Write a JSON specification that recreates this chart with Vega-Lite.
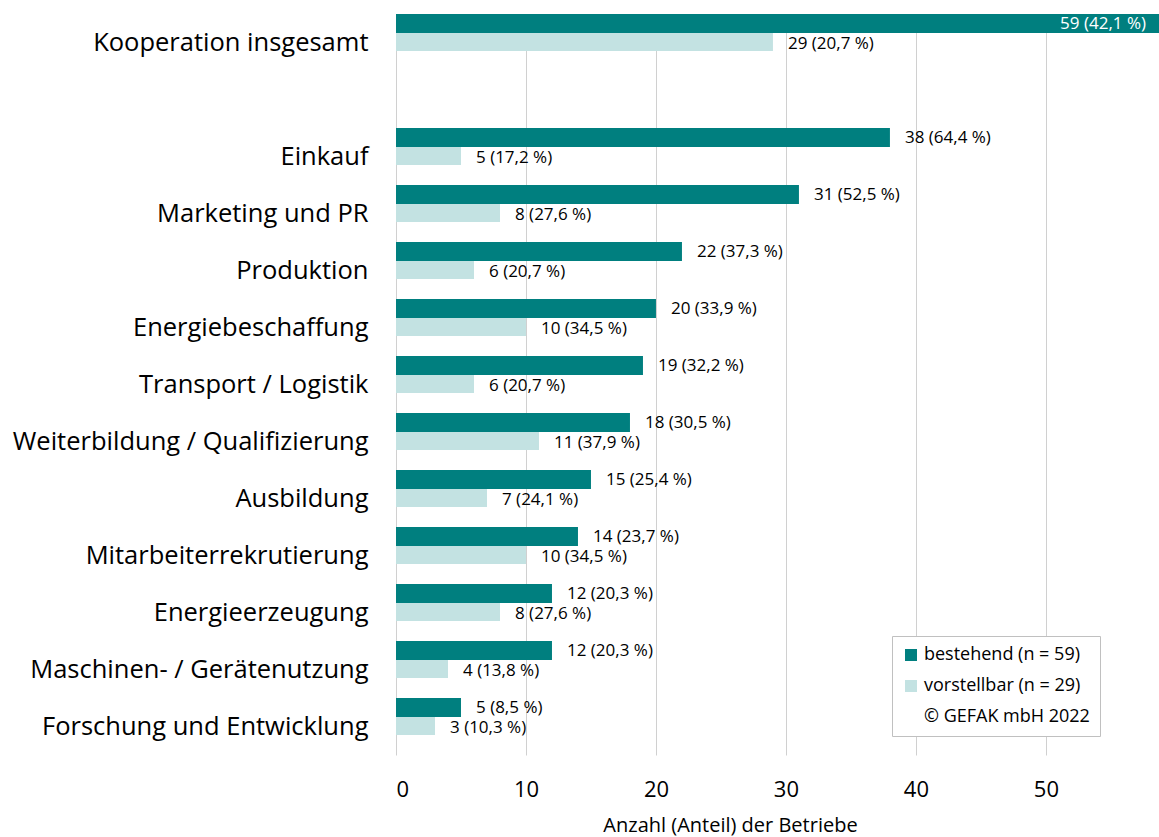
{
  "$schema": "https://vega.github.io/schema/vega-lite/v6.json",
  "autosize": {"type": "none"},
  "padding": {"left": 396, "top": 14, "right": 0, "bottom": 82},
  "width": 763,
  "height": 741,
  "background": "white",
  "config": {
    "view": {"stroke": null},
    "font": "Open Sans",
    "text": {"font": "Open Sans", "fontSize": 17, "color": "#000000"}
  },
  "data": {
    "values": [
      {"cat": "Kooperation insgesamt", "series": "bestehend (n = 59)", "value": 59, "label": "59 (42,1 %)"},
      {"cat": "Kooperation insgesamt", "series": "vorstellbar (n = 29)", "value": 29, "label": "29 (20,7 %)"},
      {"cat": "Einkauf", "series": "bestehend (n = 59)", "value": 38, "label": "38 (64,4 %)"},
      {"cat": "Einkauf", "series": "vorstellbar (n = 29)", "value": 5, "label": "5 (17,2 %)"},
      {"cat": "Marketing und PR", "series": "bestehend (n = 59)", "value": 31, "label": "31 (52,5 %)"},
      {"cat": "Marketing und PR", "series": "vorstellbar (n = 29)", "value": 8, "label": "8 (27,6 %)"},
      {"cat": "Produktion", "series": "bestehend (n = 59)", "value": 22, "label": "22 (37,3 %)"},
      {"cat": "Produktion", "series": "vorstellbar (n = 29)", "value": 6, "label": "6 (20,7 %)"},
      {"cat": "Energiebeschaffung", "series": "bestehend (n = 59)", "value": 20, "label": "20 (33,9 %)"},
      {"cat": "Energiebeschaffung", "series": "vorstellbar (n = 29)", "value": 10, "label": "10 (34,5 %)"},
      {"cat": "Transport / Logistik", "series": "bestehend (n = 59)", "value": 19, "label": "19 (32,2 %)"},
      {"cat": "Transport / Logistik", "series": "vorstellbar (n = 29)", "value": 6, "label": "6 (20,7 %)"},
      {"cat": "Weiterbildung / Qualifizierung", "series": "bestehend (n = 59)", "value": 18, "label": "18 (30,5 %)"},
      {"cat": "Weiterbildung / Qualifizierung", "series": "vorstellbar (n = 29)", "value": 11, "label": "11 (37,9 %)"},
      {"cat": "Ausbildung", "series": "bestehend (n = 59)", "value": 15, "label": "15 (25,4 %)"},
      {"cat": "Ausbildung", "series": "vorstellbar (n = 29)", "value": 7, "label": "7 (24,1 %)"},
      {"cat": "Mitarbeiterrekrutierung", "series": "bestehend (n = 59)", "value": 14, "label": "14 (23,7 %)"},
      {"cat": "Mitarbeiterrekrutierung", "series": "vorstellbar (n = 29)", "value": 10, "label": "10 (34,5 %)"},
      {"cat": "Energieerzeugung", "series": "bestehend (n = 59)", "value": 12, "label": "12 (20,3 %)"},
      {"cat": "Energieerzeugung", "series": "vorstellbar (n = 29)", "value": 8, "label": "8 (27,6 %)"},
      {"cat": "Maschinen- / Gerätenutzung", "series": "bestehend (n = 59)", "value": 12, "label": "12 (20,3 %)"},
      {"cat": "Maschinen- / Gerätenutzung", "series": "vorstellbar (n = 29)", "value": 4, "label": "4 (13,8 %)"},
      {"cat": "Forschung und Entwicklung", "series": "bestehend (n = 59)", "value": 5, "label": "5 (8,5 %)"},
      {"cat": "Forschung und Entwicklung", "series": "vorstellbar (n = 29)", "value": 3, "label": "3 (10,3 %)"}
    ]
  },
  "encoding": {
    "y": {
      "field": "cat",
      "type": "nominal",
      "sort": null,
      "scale": {
        "domain": ["Kooperation insgesamt", " ", "Einkauf", "Marketing und PR", "Produktion", "Energiebeschaffung", "Transport / Logistik", "Weiterbildung / Qualifizierung", "Ausbildung", "Mitarbeiterrekrutierung", "Energieerzeugung", "Maschinen- / Gerätenutzung", "Forschung und Entwicklung"],
        "paddingInner": 0,
        "paddingOuter": 0
      },
      "axis": {
        "title": null,
        "ticks": false,
        "domain": false,
        "grid": false,
        "labelFont": "Open Sans",
        "labelFontSize": 25.5,
        "labelColor": "#000000",
        "labelPadding": 28,
        "labelLimit": 500
      }
    },
    "x": {
      "field": "value",
      "type": "quantitative",
      "scale": {"domain": [0, 58.7], "nice": false, "clamp": true, "zero": true},
      "axis": {
        "values": [0, 10, 20, 30, 40, 50],
        "title": "Anzahl (Anteil) der Betriebe",
        "titleFont": "Open Sans",
        "titleFontSize": 20,
        "titleFontWeight": "normal",
        "titleColor": "#000000",
        "titleX": 334,
        "titleY": 80,
        "titleAnchor": "middle",
        "titleAlign": "center",
        "titleBaseline": "bottom",
        "labelFont": "Open Sans",
        "labelFontSize": 22,
        "labelColor": "#000000",
        "labelPadding": 24,
        "ticks": false,
        "domain": false,
        "grid": true,
        "gridColor": "#d0d0d0",
        "gridWidth": 1
      }
    }
  },
  "layer": [
    {
      "transform": [{"filter": "datum.series === 'bestehend (n = 59)'"}],
      "mark": {"type": "bar", "height": 19, "yOffset": -19},
      "encoding": {
        "color": {
          "field": "series",
          "type": "nominal",
          "scale": {
            "domain": ["bestehend (n = 59)", "vorstellbar (n = 29)", "© GEFAK mbH 2022"],
            "range": ["#007F7F", "#C3E2E2", "rgba(0,0,0,0)"]
          },
          "legend": {
            "title": null,
            "orient": "none",
            "legendX": 496,
            "legendY": 622,
            "fillColor": "white",
            "strokeColor": "#c0c0c0",
            "padding": 10,
            "labelFont": "Open Sans",
            "labelFontSize": 18,
            "labelColor": "#000000",
            "labelLimit": 400,
            "symbolType": "square",
            "symbolSize": 144,
            "symbolStrokeWidth": 0,
            "symbolOpacity": 1,
            "rowPadding": 13,
            "labelOffset": 4
          }
        }
      }
    },
    {
      "transform": [{"filter": "datum.series === 'vorstellbar (n = 29)'"}],
      "mark": {"type": "bar", "height": 18, "yOffset": -0.5},
      "encoding": {
        "color": {"field": "series", "type": "nominal"}
      }
    },
    {
      "transform": [{"filter": "datum.series === 'bestehend (n = 59)' && datum.cat !== 'Kooperation insgesamt'"}],
      "mark": {"type": "text", "align": "left", "baseline": "middle", "dx": 15, "yOffset": -18.5},
      "encoding": {"text": {"field": "label"}}
    },
    {
      "transform": [{"filter": "datum.series === 'vorstellbar (n = 29)'"}],
      "mark": {"type": "text", "align": "left", "baseline": "middle", "dx": 15, "yOffset": 1.5},
      "encoding": {"text": {"field": "label"}}
    },
    {
      "transform": [{"filter": "datum.series === 'bestehend (n = 59)' && datum.cat === 'Kooperation insgesamt'"}],
      "mark": {"type": "text", "align": "right", "baseline": "middle", "dx": -13, "yOffset": -18.5, "color": "white"},
      "encoding": {"text": {"field": "label"}}
    }
  ]
}
